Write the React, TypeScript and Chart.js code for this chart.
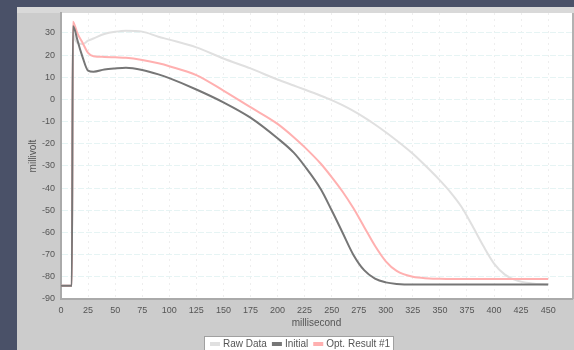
import React, { useEffect, useRef } from 'react';
import { Chart, registerables } from 'chart.js';

Chart.register(...registerables);

// ---- data ----
const timeMs = [0, 10, 11, 13, 15, 20, 25, 30, 40, 50, 60, 75, 90, 100, 125, 150, 175, 200, 215, 225, 240, 250, 260, 270, 280, 290, 300, 310, 325, 340, 350, 360, 370, 380, 390, 400, 410, 420, 435, 450];

const rawData = [-84, -84, 30, 27, 25.5, 25, 26.5, 27.5, 29.5, 30.5, 31, 30.6, 28.3, 27, 23.5, 18.5, 14, 9, 6.3, 4.5, 1.7, -0.3, -2.6, -5.2, -8.1, -11.3, -14.8, -18.5, -24.5, -31.5, -36.5, -42, -48.5, -57, -66, -74, -79, -81.5, -83, -83.5];

const initialData = [-84, -84, 33, 31, 27, 19, 13, 12.5, 13.5, 14, 14.3, 13.3, 11.3, 9.6, 4.5, -1.3, -8.2, -17.5, -24, -30, -40.5, -50, -60, -70, -77, -80.8, -82.5, -83.2, -83.5, -83.5, -83.5, -83.5, -83.5, -83.5, -83.5, -83.5, -83.5, -83.5, -83.5, -83.5];

const optResult1 = [-84, -84, 35, 33, 30, 25.5, 21, 19.5, 19.2, 19, 18.8, 17.8, 16.3, 15, 11, 4, -3.5, -11, -17, -21.5, -29, -35, -41.5, -49, -57.5, -66, -73, -77.3, -80, -80.7, -80.9, -81, -81, -81, -81, -81, -81, -81, -81, -81];

const seriesLabels = ['Raw Data', 'Initial', 'Opt. Result #1'];
const seriesColors = ['#e0e0e0', '#767676', '#ffb0b0'];

const xTicks = [0, 25, 50, 75, 100, 125, 150, 175, 200, 225, 250, 275, 300, 325, 350, 375, 400, 425, 450];
const yTicks = [-90, -80, -70, -60, -50, -40, -30, -20, -10, 0, 10, 20, 30];

const xTitle = 'millisecond';
const yTitle = 'millivolt';

const FONT = "'Liberation Sans', Arial, sans-serif";

const framePlugin = {
  id: 'frame',
  beforeDraw(chart: any) {
    const { ctx, chartArea: a, width, height } = chart;
    ctx.save();
    ctx.fillStyle = '#4a5168';
    ctx.fillRect(0, 0, width, height);
    ctx.fillStyle = '#cccccc';
    ctx.fillRect(17, 7, width - 17, height - 7);
    ctx.fillStyle = '#d9d9d9';
    ctx.fillRect(17, 7, width - 17, 6);
    ctx.fillStyle = '#ffffff';
    ctx.fillRect(a.left, a.top, a.right - a.left, a.bottom - a.top);
    ctx.fillStyle = '#b2b2b2';
    ctx.fillRect(a.right, a.top, width - a.right, a.bottom - a.top);
    ctx.restore();
  },
  afterDraw(chart: any) {
    const { ctx, chartArea: a } = chart;
    ctx.save();
    ctx.fillStyle = '#555555';
    ctx.font = `10px ${FONT}`;
    ctx.textAlign = 'center';
    ctx.textBaseline = 'middle';
    ctx.fillText(xTitle, (a.left + a.right) / 2, 323);
    ctx.save();
    ctx.translate(33, (a.top + a.bottom) / 2);
    ctx.rotate(-Math.PI / 2);
    ctx.fillText(yTitle, 0, 0);
    ctx.restore();

    // legend
    const bx = 204, by = 336, bw = 190, bh = 17;
    ctx.fillStyle = '#ffffff';
    ctx.fillRect(bx, by, bw, bh);
    ctx.strokeStyle = '#a0a0a0';
    ctx.lineWidth = 1;
    ctx.strokeRect(bx + 0.5, by + 0.5, bw - 1, bh - 1);
    ctx.textAlign = 'left';
    let x = 210;
    const cy = 344;
    for (let i = 0; i < seriesLabels.length; i++) {
      ctx.fillStyle = seriesColors[i];
      ctx.fillRect(x, cy - 2, 10, 4);
      x += 13;
      ctx.fillStyle = '#555555';
      ctx.fillText(seriesLabels[i], x, cy);
      x += ctx.measureText(seriesLabels[i]).width + 5;
    }
    ctx.restore();
  },
};

export default function App() {
  const canvasRef = useRef<HTMLCanvasElement>(null);

  useEffect(() => {
    document.body.style.margin = '0';
    const canvas = canvasRef.current;
    if (!canvas) return;
    const seriesValues = [rawData, initialData, optResult1];
    const datasets = seriesValues.map((vals, i) => ({
      label: seriesLabels[i],
      data: timeMs.map((t, j) => ({ x: t, y: vals[j] })),
      borderColor: seriesColors[i],
      backgroundColor: seriesColors[i],
      borderWidth: 2,
      pointRadius: 0,
      fill: false,
      cubicInterpolationMode: 'monotone' as const,
      order: i === 0 ? 3 : i === 1 ? 1 : 2,
    }));

    const chart = new Chart(canvas, {
      type: 'line',
      data: { datasets },
      options: {
        animation: false,
        responsive: false,
        devicePixelRatio: 1,
        layout: { padding: { left: 17, right: 2, top: 13, bottom: 0 } },
        plugins: { legend: { display: false }, tooltip: { enabled: false } },
        scales: {
          x: {
            type: 'linear',
            min: 0,
            max: 472,
            afterBuildTicks: (s: any) => {
              s.ticks = xTicks.map((v) => ({ value: v }));
            },
            afterFit: (s: any) => {
              s.height = 51;
            },
            ticks: {
              autoSkip: false,
              maxRotation: 0,
              padding: 6,
              color: '#555555',
              font: { family: FONT, size: 9 },
            },
            grid: { color: '#eeeeee', lineWidth: 1, drawTicks: false },
            border: { color: '#aaaaaa', width: 2, dash: [2, 4] },
          },
          y: {
            type: 'linear',
            min: -90,
            max: 39,
            afterBuildTicks: (s: any) => {
              s.ticks = yTicks.map((v) => ({ value: v }));
            },
            afterFit: (s: any) => {
              s.width = 44;
            },
            ticks: {
              autoSkip: false,
              padding: 6,
              color: '#555555',
              font: { family: FONT, size: 9 },
            },
            grid: { color: '#e6f4f4', lineWidth: 1, drawTicks: false },
            border: { color: '#aaaaaa', width: 2, dash: [6, 2] },
          },
        },
      },
      plugins: [framePlugin],
    });
    return () => chart.destroy();
  }, []);

  return (
    <div style={{ position: 'absolute', left: 0, top: 0, width: 574, height: 350 }}>
      <canvas ref={canvasRef} width={574} height={350} style={{ display: 'block' }} />
    </div>
  );
}
